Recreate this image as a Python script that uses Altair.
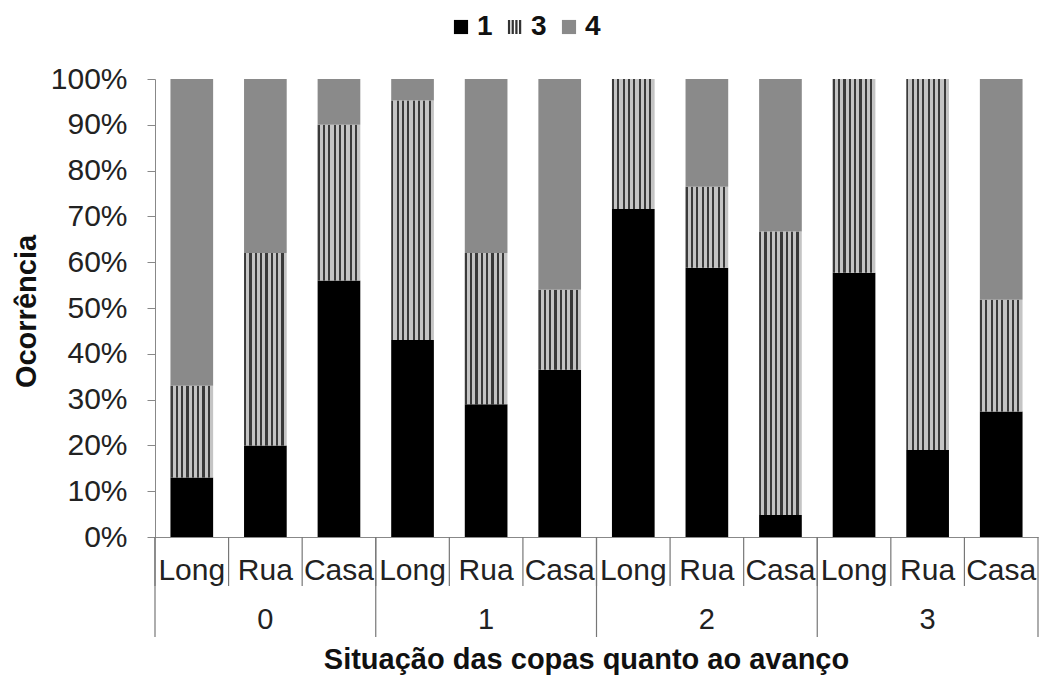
import altair as alt
import pandas as pd

# ---- data ----
groups = ["0", "1", "2", "3"]
subs = ["Long", "Rua", "Casa"]
series_names = ["1", "3", "4"]
s1 = [13.0, 20.0, 56.0, 43.0, 29.0, 36.5, 71.6, 58.8, 4.8, 57.7, 19.0, 27.4]
s3 = [20.0, 42.0, 34.0, 52.3, 33.0, 17.5, 28.4, 17.7, 61.9, 42.3, 81.0, 24.4]
s4 = [67.0, 38.0, 10.0, 4.7, 38.0, 46.0, 0.0, 23.5, 33.3, 0.0, 0.0, 48.2]
y_ticks = [0, 0.1, 0.2, 0.3, 0.4, 0.5, 0.6, 0.7, 0.8, 0.9, 1.0]

cats = [f"{g}|{s}" for g in groups for s in subs]

rows = []
for i, c in enumerate(cats):
    tot = s1[i] + s3[i] + s4[i]
    base = 0.0
    for name, vals in zip(series_names, [s1, s3, s4]):
        v = vals[i] / tot
        rows.append({"cat": c, "series": name, "y0": base, "y1": base + v})
        base += v
df = pd.DataFrame(rows)

legend_df = pd.DataFrame({"series": series_names, "cat": [cats[0]] * 3, "py": [0.05] * 3})
cat_df = pd.DataFrame({"cat": cats})
grp_start_df = pd.DataFrame({"cat": [f"{g}|{subs[0]}" for g in groups]})
grp_end_df = pd.DataFrame({"cat": [cats[-1]]})
grp_lab_df = pd.DataFrame({"cat": [f"{g}|{subs[1]}" for g in groups], "label": groups})

H = 458
W = 883
FONT = "Liberation Sans"

xscale = alt.Scale(domain=cats, paddingInner=0, paddingOuter=0)
yscale = alt.Scale(domain=[0, 1], nice=False, zero=True)

xaxis = alt.Axis(
    title="Situação das copas quanto ao avanço",
    labelExpr="split(datum.label, '|')[1]",
    labelAngle=0, labelFontSize=30, labelColor="#222", labelPadding=18,
    ticks=False, tickSize=0, domainColor="#888", grid=False,
    titleFontSize=29, titleFontWeight="bold", titleColor="#111",
    titleX=431, titleY=131, titleBaseline="alphabetic", titleAlign="center",
)
yaxis = alt.Axis(
    title="Ocorrência", values=y_ticks, format=".0%",
    labelFontSize=30, labelColor="#222", labelPadding=20,
    tickSize=8, tickColor="#888", domainColor="#888", grid=False,
    titleFontSize=29, titleFontWeight="bold", titleColor="#111",
    titleAngle=270, titleX=-120, titleY=232, titleBaseline="alphabetic", titleAlign="center",
)

X = alt.X("cat:N", scale=xscale, axis=xaxis, sort=cats)
Y = alt.Y("y0:Q", scale=yscale, axis=yaxis)

stripe_path = ("M-1,-1H-0.68V1H-1Z M-0.48,-1H-0.16V1H-0.48Z "
               "M0.04,-1H0.36V1H0.04Z M0.56,-1H0.88V1H0.56Z")

leg = alt.Legend(
    title=None, orient="none", legendX=292, legendY=-66, direction="horizontal",
    labelFontSize=28, labelFontWeight="bold", labelColor="#111",
    symbolSize=200, labelOffset=2, columnPadding=8, symbolStrokeWidth=0,
)

legend_layer = alt.Chart(legend_df).mark_point(filled=True, size=200, opacity=1).encode(
    x=alt.X("cat:N", scale=xscale, axis=xaxis, sort=cats),
    y=alt.Y("py:Q", scale=yscale, axis=yaxis),
    color=alt.Color("series:N", scale=alt.Scale(domain=series_names, range=["#000000", "#333333", "#8a8a8a"]), legend=leg),
    shape=alt.Shape("series:N", scale=alt.Scale(domain=series_names, range=["square", stripe_path, "square"]), legend=leg),
)

# stripes gradient for series 3
n_str = 8
stops = []
for k in range(n_str):
    a = k / n_str
    b = (k + 0.4) / n_str
    e = (k + 1) / n_str
    stops += [
        {"offset": a, "color": "#3a3a3a"},
        {"offset": b, "color": "#3a3a3a"},
        {"offset": b, "color": "#c4c4c4"},
        {"offset": e, "color": "#c4c4c4"},
    ]
stripe_grad = {"gradient": "linear", "x1": 0, "x2": 1, "y1": 0, "y2": 0, "stops": stops}

base = alt.Chart(df).encode(x=X, y=Y, y2="y1:Q")
bw = {"band": 0.58}
bar1 = base.transform_filter(alt.datum.series == "1").mark_bar(color="#000000", width=bw)
bar3 = base.transform_filter(alt.datum.series == "3").mark_bar(color=stripe_grad, width=bw)
bar4 = base.transform_filter(alt.datum.series == "4").mark_bar(color="#8a8a8a", width=bw)

short_rules = alt.Chart(cat_df).mark_rule(color="#777", strokeWidth=1.2).encode(
    x=alt.X("cat:N", scale=xscale, sort=cats, bandPosition=0),
    y=alt.value(H), y2=alt.value(H + 49),
)
long_rules = alt.Chart(grp_start_df).mark_rule(color="#777", strokeWidth=1.2).encode(
    x=alt.X("cat:N", scale=xscale, sort=cats, bandPosition=0),
    y=alt.value(H), y2=alt.value(H + 100),
)
end_rule = alt.Chart(grp_end_df).mark_rule(color="#777", strokeWidth=1.2).encode(
    x=alt.X("cat:N", scale=xscale, sort=cats, bandPosition=1),
    y=alt.value(H), y2=alt.value(H + 100),
)
grp_text = alt.Chart(grp_lab_df).mark_text(fontSize=29, color="#222", baseline="middle", font=FONT).encode(
    x=alt.X("cat:N", scale=xscale, sort=cats),
    y=alt.value(H + 83),
    text="label:N",
)

chart = alt.layer(
    legend_layer, bar1, bar3, bar4, short_rules, long_rules, end_rule, grp_text
).properties(
    width=W, height=H,
    autosize=alt.AutoSizeParams(type="none"),
    padding={"left": 147, "top": 71, "right": 1, "bottom": 138},
).configure(font=FONT).configure_view(stroke=None)

chart.save("out.html", embed_options={"renderer": "svg", "actions": False})
